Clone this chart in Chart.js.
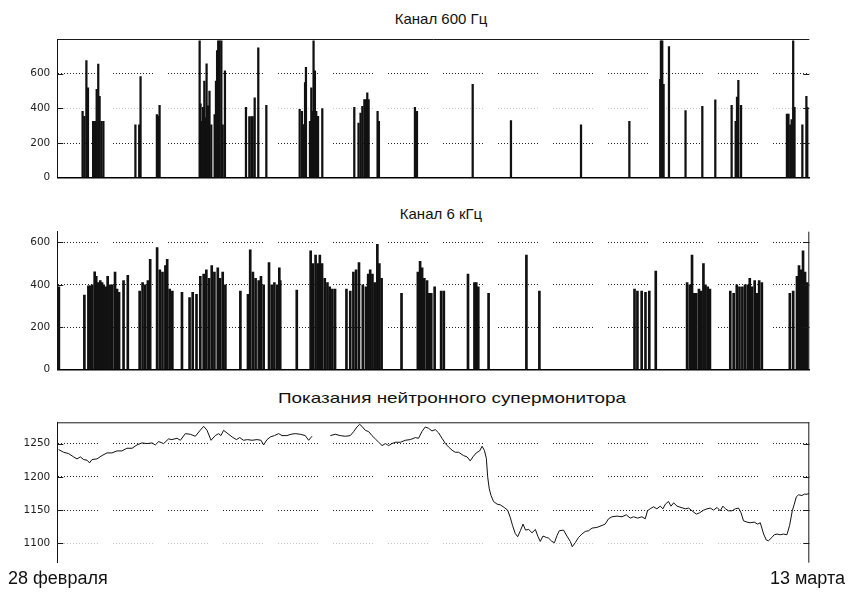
<!DOCTYPE html>
<html>
<head>
<meta charset="utf-8">
<script src="https://cdn.jsdelivr.net/npm/chart.js@4"></script>
<style>
  html, body { margin: 0; padding: 0; background: #fff; }
  body { width: 848px; height: 593px; position: relative; overflow: hidden;
         font-family: "Liberation Sans", Arial, sans-serif; color: #111; }
  .panel { position: absolute; left: 0; }
  .ttl { position: absolute; font-size: 15px; white-space: nowrap; transform: translateX(-50%); line-height: 1; }
  #t3 { transform: translateX(-50%) scaleX(1.26); }
  .date { position: absolute; top: 569px; font-size: 18px; white-space: nowrap; line-height: 1; }
</style>
</head>
<body>
<div class="ttl" id="t1" style="left:441px; top:11px"></div>
<div class="ttl" id="t2" style="left:441px; top:206px"></div>
<div class="ttl" id="t3" style="left:452px; top:390px"></div>
<canvas class="panel" id="c600" width="848" height="191" style="top:0"></canvas>
<canvas class="panel" id="c6k" width="848" height="188" style="top:195px"></canvas>
<canvas class="panel" id="cnm" width="848" height="196" style="top:380px"></canvas>
<div class="date" id="d0" style="left:8px"></div>
<div class="date" id="d1" style="right:3px"></div>

<script>
// Panel titles and period labels
const titles = ['Канал 600 Гц', 'Канал 6 кГц', 'Показания нейтронного супермонитора'];
const periodStart = '28 февраля';
const periodEnd = '13 марта';

// Time axis: hours since the start of 28 February
const hoursMin = 0;
const hoursMax = 336;

// 600 Hz channel: burst times (h) and levels
const hours600 = [11.3,12.1,13.0,13.7,16.0,16.8,17.6,18.3,18.9,19.7,20.6,
  34.9,36.6,37.2, 44.5,45.1,45.7,
  63.6,64.0,64.7,65.1,65.7,66.3,66.7,67.3,68.0,68.8,70.3,70.9,71.4,71.9,72.5,73.3,73.9,74.9,
  84.3,85.8,86.7,87.3,88.2,89.8,93.4,
  108.3,109.3,109.9,110.7,111.1,112.9,113.5,113.9,114.5,115.1,115.7,116.5,118.4,
  132.7,134.6,135.5,136.3,137.2,137.9,138.5,139.1,143.1,143.7,
  159.8,160.7,185.6,202.7,234.0,255.6,
  269.4,269.7,270.3,270.9,273.3,
  280.7,288.2,294.0,301.3,303.1,303.7,304.3,305.5,
  326.0,326.7,327.5,328.1,328.8,329.4,332.9,334.7,335.1];
const level600 = [383,354,675,519,325,325,510,655,470,325,325,
  305,305,583, 364,355,418,
  790,426,325,406,558,345,657,415,500,305,364,558,733,790,790,790,305,616,
  406,352,352,352,460,749,418,
  395,383,306,548,636,325,519,383,790,616,383,354,399,
  406,315,373,412,451,451,490,451,383,325,
  406,383,539,329,305,325,
  568,790,790,539,756,
  387,412,449,418,325,465,562,418,
  367,367,305,335,790,406,305,470,406];

// 6 kHz channel: burst times (h) and levels
const hours6k = [0.7,12.1,13.9,14.7,15.6,16.7,17.4,18.2,19.2,20.0,20.7,21.6,22.5,23.7,24.6,25.8,26.7,27.6,29.6,31.5,
  36.8,38.1,39.3,40.5,41.5,44.6,45.8,47.0,48.3,49.1,50.2,51.4,
  55.7,59.1,60.5,62.2,63.9,65.4,66.6,67.8,69.0,70.2,71.7,72.7,73.9,75.1,
  81.8,85.2,86.2,87.4,88.6,90.0,91.0,92.2,94.6,95.8,97.0,98.3,99.2,99.6,
  107.0,113.2,114.2,115.4,116.4,117.3,118.3,119.5,120.7,121.7,122.9,124.1,
  129.2,130.9,132.3,133.5,134.8,136.5,137.9,138.9,139.8,140.8,141.8,143.0,143.9,144.9,
  153.8,161.1,162.1,163.0,164.0,165.2,166.2,167.1,168.6,171.5,172.7,
  183.5,186.4,187.2,188.1,192.7,209.6,215.4,
  257.9,259.2,261.1,262.8,264.5,267.4,
  281.4,282.6,283.6,284.6,285.5,286.7,287.7,288.7,289.6,290.6,291.6,
  300.7,302.2,303.6,304.8,306.1,307.3,308.5,309.4,310.4,311.6,312.6,313.6,314.8,
  327.3,328.8,330.5,331.4,332.2,333.2,334.1,335.1];
const level6k = [390,351,395,395,400,461,440,410,420,410,400,390,440,400,400,460,380,365,420,445,
  370,410,400,420,520,575,470,460,490,520,380,370,
  365,340,365,355,440,450,470,430,490,460,480,430,460,400,
  370,355,565,460,430,420,440,400,505,400,410,400,480,420,
  375,560,500,540,500,540,500,430,410,390,380,380,
  380,370,460,470,505,400,390,450,470,450,410,590,500,430,
  360,460,510,480,430,420,360,360,390,370,370,
  450,410,410,390,360,540,370,
  380,370,370,365,370,465,
  410,400,540,360,360,380,370,500,400,390,380,
  370,360,400,390,390,400,400,430,390,420,360,420,410,
  360,370,440,490,470,560,460,410];

// Neutron supermonitor: reading times (h) and count rate (null = no data)
const hoursNM = [0.6,2.8,5.0,7.3,8.8,10.3,11.8,13.3,14.4,15.5,17.7,20.0,22.2,24.4,26.7,28.9,31.1,33.4,35.6,37.8,
  40.1,42.3,43.8,45.3,47.5,49.7,51.2,53.5,55.0,57.2,59.4,61.7,63.6,65.4,66.9,68.7,70.6,72.1,73.1,74.3,
  75.8,78.1,80.0,81.5,83.2,85.0,87.0,89.2,91.0,92.2,93.7,95.2,97.0,98.9,100.4,102.6,104.4,106.3,108.6,110.8,
  112.3,113.8,118.0,122.0,124.2,126.4,128.7,130.9,132.4,133.9,135.1,136.1,137.6,139.1,140.6,142.1,143.6,145.1,146.6,148.0,
  149.5,151.0,153.3,155.5,157.7,160.0,161.4,162.9,164.4,165.9,167.4,168.9,170.4,171.9,173.4,174.8,176.4,177.8,179.3,181.5,
  183.1,184.5,185.7,187.2,188.7,189.8,190.8,191.7,192.3,193.0,193.8,194.9,196.5,197.9,199.7,201.2,202.4,203.4,204.6,205.7,
  206.9,208.1,209.2,210.6,212.1,213.6,214.8,215.8,217.0,218.5,219.5,221.0,222.1,223.3,224.3,226.2,227.7,229.2,230.1,231.4,
  232.9,234.4,235.9,237.4,238.9,241.1,243.4,244.8,246.3,247.8,250.1,252.3,254.2,256.0,257.5,259.3,261.2,262.7,263.7,264.9,
  266.4,267.9,269.4,270.6,271.7,273.1,274.2,275.4,276.9,278.7,280.6,282.1,283.6,285.5,287.0,288.8,290.3,291.8,293.2,294.8,
  296.2,297.4,298.5,299.9,301.5,302.9,304.4,305.5,306.6,308.2,309.6,311.4,312.9,314.1,315.6,316.8,317.8,319.3,320.3,321.6,
  323.0,324.5,326.0,327.2,328.4,329.3,330.2,331.2,332.7,333.8,335.0,336.0];
const countsNM = [1241,1237,1235,1230,1227,1230,1226,1225,1221,1226,1227,1232,1236,1236,1239,1239,1243,1243,1248,1251,
  1250,1251,1248,1253,1250,1257,1256,1258,1255,1265,1264,1261,1269,1276,1270,1255,1262,1265,1262,1270,
  1266,1260,1256,1259,1255,1256,1255,1256,1255,1248,1256,1260,1262,1265,1262,1262,1264,1265,1264,1262,
  1255,1261,null,1262,1264,1262,1261,1262,1268,1275,1279,1276,1270,1268,1262,1257,1252,1247,1250,1247,
  1250,1252,1252,1255,1256,1259,1258,1268,1275,1273,1269,1271,1266,1258,1250,1245,1240,1237,1237,1232,
  1230,1224,1230,1236,1239,1246,1240,1228,1200,1182,1172,1163,1159,1158,1154,1150,1139,1127,1115,1110,
  1119,1129,1120,1121,1116,1121,1110,1103,1111,1109,1108,1103,1101,1112,1119,1120,1111,1103,1095,1101,
  1109,1114,1118,1119,1123,1124,1127,1129,1137,1140,1141,1140,1143,1138,1140,1138,1140,1137,1149,1152,
  1155,1152,1156,1152,1159,1163,1156,1161,1156,1154,1152,1153,1149,1144,1146,1150,1152,1153,1150,1154,
  1149,1156,1152,1149,1149,1152,1153,1146,1134,1132,1131,1132,1129,1131,1114,1105,1104,1109,1113,1114,
  1113,1114,1113,1127,1149,1159,1170,1173,1172,1174,1174,1175];

// Y-axis tick values and ranges
const ticks600 = [0, 200, 400, 600];
const ticks6k = [0, 200, 400, 600];
const ticksNM = [1100, 1150, 1200, 1250];
const range600 = [0, 800];
const range6k = [0, 650];
const rangeNM = [1071, 1282];

document.getElementById('t1').textContent = titles[0];
document.getElementById('t2').textContent = titles[1];
document.getElementById('t3').textContent = titles[2];
document.getElementById('d0').textContent = periodStart;
document.getElementById('d1').textContent = periodEnd;

// dotted grid pattern: runs of dots separated by short breaks
const dotPattern = [];
for (let i = 0; i < 14; i++) dotPattern.push(1, 2);
dotPattern[dotPattern.length - 1] = 15;

// plot frame and inward tick marks on both sides
const framePlugin = {
  id: 'frame',
  afterDraw(chart, args, opts) {
    const { ctx, chartArea: { left, right, top, bottom } } = chart;
    const y = chart.scales.y;
    ctx.save();
    ctx.strokeStyle = '#1a1a1a';
    ctx.lineWidth = 1;
    ctx.beginPath();
    if (opts.top) { ctx.moveTo(left, top + 0.5); ctx.lineTo(right, top + 0.5); }
    if (opts.right) { ctx.moveTo(right - 0.5, top); ctx.lineTo(right - 0.5, bottom); }
    y.ticks.forEach(t => {
      if (t.value === opts.skipTick) return;
      const py = Math.round(y.getPixelForValue(t.value)) + 0.5;
      ctx.moveTo(left, py); ctx.lineTo(left + 6, py);
      ctx.moveTo(right - 6, py); ctx.lineTo(right, py);
    });
    ctx.stroke();
    ctx.restore();
  }
};

function yAxis(range, tickList, faint, base) {
  return {
    min: range[0], max: range[1],
    afterBuildTicks: s => { s.ticks = tickList.map(v => ({ value: v })); },
    afterFit: s => { s.width = 57.3; },
    ticks: { padding: 7, color: '#222', font: { family: 'DejaVu Sans', size: 10.5 },
             callback: v => String(v) },
    grid: {
      drawTicks: false, lineWidth: 1,
      color: c => (c.tick && c.tick.value === base) ? 'rgba(0,0,0,0)'
               : (c.tick && c.tick.value === faint) ? '#c4c4c4' : '#222'
    },
    border: { display: true, color: '#111', width: 1, dash: dotPattern }
  };
}

function xAxis(showBase) {
  return {
    type: 'linear', min: hoursMin, max: hoursMax, offset: false,
    ticks: { display: false },
    grid: { display: false, drawTicks: false },
    border: { display: showBase, color: '#000', width: 1.6 }
  };
}

function barPanel(id, hours, levels, range, tickList, faint, frameOpts, pad, thickness) {
  return new Chart(document.getElementById(id), {
    type: 'bar',
    data: {
      datasets: [{
        data: hours.map((h, i) => ({ x: h, y: levels[i] })),
        backgroundColor: '#111',
        borderWidth: 0,
        barThickness: thickness,
        grouped: false
      }]
    },
    options: {
      responsive: false, animation: false,
      layout: { padding: pad },
      plugins: { legend: { display: false }, tooltip: { enabled: false }, frame: frameOpts },
      scales: { x: xAxis(true), y: yAxis(range, tickList, faint, 0) }
    },
    plugins: [framePlugin]
  });
}

barPanel('c600', hours600, level600, range600, ticks600, 400,
  { top: true, right: false, skipTick: 0 }, { top: 39, right: 38.7, bottom: 0, left: 0 }, 1.6);
barPanel('c6k', hours6k, level6k, range6k, ticks6k, null,
  { top: false, right: true, skipTick: 0 }, { top: 36.7, right: 38.7, bottom: 0, left: 0 }, 2);

new Chart(document.getElementById('cnm'), {
  type: 'line',
  data: {
    datasets: [{
      data: hoursNM.map((h, i) => ({ x: h, y: countsNM[i] })),
      borderColor: '#111',
      borderWidth: 1,
      pointRadius: 0,
      tension: 0,
      spanGaps: false
    }]
  },
  options: {
    responsive: false, animation: false,
    layout: { padding: { top: 42.3, right: 38.7, bottom: 8.3, left: 0 } },
    plugins: { legend: { display: false }, tooltip: { enabled: false }, frame: { top: true, right: true, skipTick: null } },
    scales: { x: xAxis(false), y: yAxis(rangeNM, ticksNM, 1100, null) }
  },
  plugins: [framePlugin]
});
</script>
</body>
</html>
